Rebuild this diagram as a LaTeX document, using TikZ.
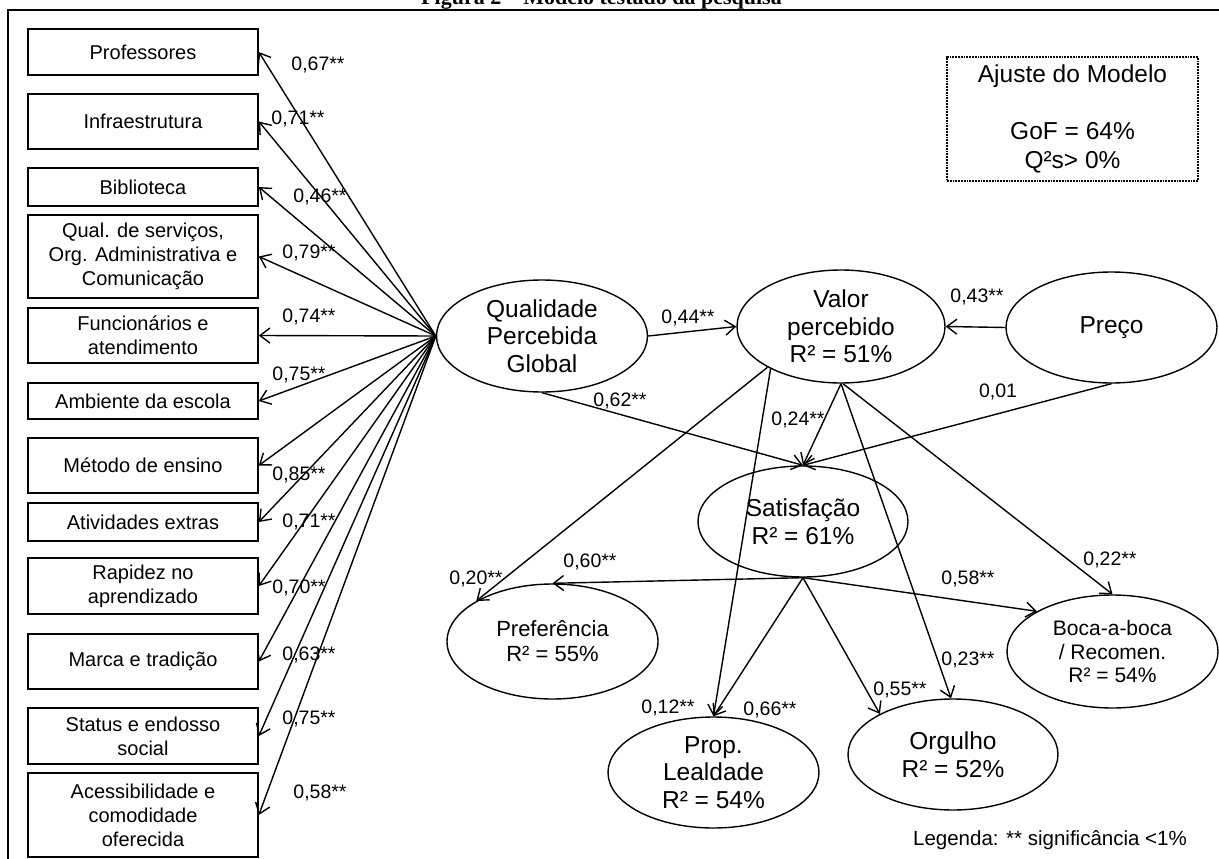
\documentclass[tikz,border=0pt]{standalone}
\usepackage{fontspec}
\setmainfont{Liberation Sans}
\newfontfamily\titlefont{Liberation Serif}
\usetikzlibrary{shapes.geometric,arrows.meta}
\begin{document}
\begin{tikzpicture}[x=1pt,y=-1pt,
 box/.style={draw, line width=1.6pt, minimum width=230pt, inner sep=0pt, align=center, font=\fontsize{20}{24}\selectfont},
 lat/.style={draw, ellipse, line width=1.4pt, inner sep=0pt, align=center, minimum width=211pt, minimum height=112pt, font=\fontsize{24.5}{27.5}\selectfont},
 arr/.style={line width=1.4pt, -{Straight Barb[length=10pt,width=15pt]}},
 lbl/.style={font=\fontsize{19.5}{22}\selectfont, inner sep=0pt}]
\useasboundingbox (0,0) rectangle (1219,859);
% frame and title
\draw[line width=1.6pt] (8,870) -- (8,10) -- (1230,10);
\node[anchor=base, inner sep=0pt, font=\titlefont\bfseries\fontsize{22}{26}\selectfont] (title) at (601.5,5) {Figura 2 – Modelo testado da pesquisa};
% indicator boxes
\node[box, minimum height=46pt] (b1) at (143,52) {Professores};
\node[box, minimum height=55pt] (b2) at (143,121.5) {Infraestrutura};
\node[box, minimum height=38pt] (b3) at (143,187) {Biblioteca};
\node[box, minimum height=83pt] (b4) at (143,256.5) {Qual. de serviços,\\Org. Administrativa e\\Comunicação};
\node[box, minimum height=55pt] (b5) at (143,335.5) {Funcionários e\\atendimento};
\node[box, minimum height=36pt] (b6) at (143,401) {Ambiente da escola};
\node[box, minimum height=55pt] (b7) at (143,465.5) {Método de ensino};
\node[box, minimum height=38pt] (b8) at (143,522) {Atividades extras};
\node[box, minimum height=56pt] (b9) at (143,586) {Rapidez no\\aprendizado};
\node[box, minimum height=55pt] (b10) at (143,661.5) {Marca e tradição};
\node[box, minimum height=56pt] (b11) at (143,736) {Status e endosso\\social};
\node[box, minimum height=84pt] (b12) at (143,815) {Acessibilidade e\\comodidade\\oferecida};
% latent variables
\node[lat] (Q) at (542,336) {Qualidade\\Percebida\\Global};
\node[lat, minimum width=208pt, minimum height=113pt] (V) at (841,326.5) {Valor\\percebido\\R² = 51\%};
\node[lat, minimum height=111pt] (P) at (1111.5,327.5) {Preço};
\node[lat, minimum width=210pt, minimum height=111pt] (S) at (803,521.5) {Satisfação\\R² = 61\%};
\node[lat, minimum height=115pt, font=\fontsize{22}{25}\selectfont] (Pf) at (552.5,641.5) {Preferência\\R² = 55\%};
\node[lat, minimum height=111pt] (L) at (713.5,772.5) {Prop.\\Lealdade\\R² = 54\%};
\node[lat, minimum width=210pt, minimum height=111pt] (O) at (953,754.5) {Orgulho\\R² = 52\%};
\node[lat, minimum height=113pt, font=\fontsize{21}{23.5}\selectfont] (B) at (1112.5,651.5) {Boca-a-boca\\/ Recomen.\\R² = 54\%};
% model fit box
\node[draw, densely dotted, line width=1.8pt, minimum width=251pt, minimum height=124pt, align=center, inner sep=0pt, font=\fontsize{24.5}{28.5}\selectfont] (fit) at (1072.5,119) {Ajuste do Modelo\\ \\GoF = 64\%\\Q²s> 0\%};
% loadings
\foreach \b in {b1,b2,b3,b4,b5,b6,b7,b8,b9,b10,b11,b12}
  \draw[arr] (Q.west) -- (\b.east);
\node[lbl] (l1) at (318,65) {0,67**};
\node[lbl] (l2) at (298,119) {0,71**};
\node[lbl] (l3) at (320,197) {0,46**};
\node[lbl] (l4) at (309,253) {0,79**};
\node[lbl] (l5) at (309,317) {0,74**};
\node[lbl] (l6) at (299,375) {0,75**};
\node[lbl] (l7) at (299,475) {0,85**};
\node[lbl] (l8) at (309,522) {0,71**};
\node[lbl] (l9) at (299,588) {0,70**};
\node[lbl] (l10) at (309,655) {0,63**};
\node[lbl] (l11) at (309,719) {0,75**};
\node[lbl] (l12) at (320,793) {0,58**};
% structural paths
\draw[arr] (Q.east) -- (V.west);
\draw[arr] (P.west) -- (V.east);
\draw[arr] (Q.south) -- (S.north);
\draw[arr] (V.south) -- (S.north);
\draw[arr] (P.south) -- (S.north);
\draw[arr] (V.209) -- (Pf.152);
\draw[arr] (V.211) -- (L.north);
\draw[arr] (V.south) -- (O.92);
\draw[arr] (V.-88) -- (B.north);
\draw[arr] (S.south) -- (Pf.north);
\draw[arr] (S.south) -- (B.152);
\draw[arr] (S.south) -- (L.north);
\draw[arr] (S.south) -- (O.151);
\node[lbl] (p1) at (688,318) {0,44**};
\node[lbl] (p2) at (977,297) {0,43**};
\node[lbl] (p3) at (620,401) {0,62**};
\node[lbl] (p4) at (798,420) {0,24**};
\node[lbl] (p5) at (998,392) {0,01};
\node[lbl] (p6) at (476,579) {0,20**};
\node[lbl] (p7) at (590,562) {0,60**};
\node[lbl] (p8) at (968,579) {0,58**};
\node[lbl] (p9) at (1110,560) {0,22**};
\node[lbl] (p10) at (968,660) {0,23**};
\node[lbl] (p11) at (900,690) {0,55**};
\node[lbl] (p12) at (668,708) {0,12**};
\node[lbl] (p13) at (770,710) {0,66**};
\node[lbl, font=\fontsize{20.5}{24}\selectfont] (leg) at (1050,840) {Legenda: ** significância <1\%};
\end{tikzpicture}
\end{document}
